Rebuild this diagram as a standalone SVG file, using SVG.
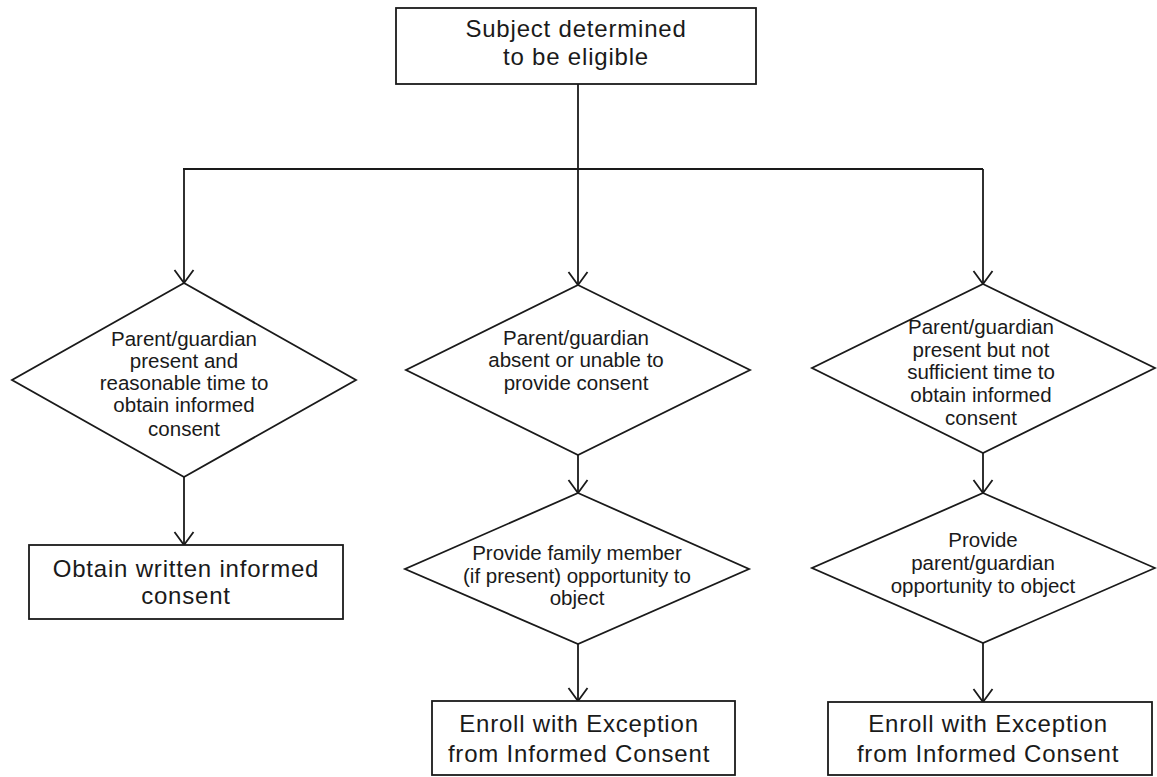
<svg xmlns="http://www.w3.org/2000/svg" width="1157" height="777" viewBox="0 0 1157 777">
  <style>
    .shape { fill: #ffffff; stroke: #1a1a1a; stroke-width: 1.8; }
    .link { fill: none; stroke: #1a1a1a; stroke-width: 1.8; }
    .boxtxt { font-family: "Liberation Sans", Arial, sans-serif; font-size: 24px; letter-spacing: 0.8px; fill: #1a1a1a; text-anchor: middle; }
    .dtxt { font-family: "Liberation Sans", Arial, sans-serif; font-size: 20.5px; fill: #1a1a1a; text-anchor: middle; }
  </style>
  <defs>
    <marker id="arrow" markerUnits="userSpaceOnUse" markerWidth="30" markerHeight="30" refX="0" refY="0" orient="auto" overflow="visible">
      <path d="M-13,-9.5 L0,0 L-13,9.5" fill="none" stroke="#1a1a1a" stroke-width="1.8"/>
    </marker>
  </defs>
  <rect width="1157" height="777" fill="#ffffff"/>

  <g id="connectors">
    <line class="link" x1="578" y1="84" x2="578" y2="169"/>
    <line class="link" x1="183" y1="169" x2="983" y2="169"/>
    <line class="link" x1="184" y1="169" x2="184" y2="283" marker-end="url(#arrow)"/>
    <line class="link" x1="578" y1="169" x2="578" y2="285" marker-end="url(#arrow)"/>
    <line class="link" x1="983" y1="169" x2="983" y2="284" marker-end="url(#arrow)"/>
    <line class="link" x1="184" y1="477" x2="184" y2="545" marker-end="url(#arrow)"/>
    <line class="link" x1="578" y1="455" x2="578" y2="493" marker-end="url(#arrow)"/>
    <line class="link" x1="578" y1="644" x2="578" y2="701" marker-end="url(#arrow)"/>
    <line class="link" x1="983" y1="453" x2="983" y2="493" marker-end="url(#arrow)"/>
    <line class="link" x1="983" y1="643" x2="983" y2="702" marker-end="url(#arrow)"/>
  </g>

  <g id="start">
    <rect class="shape" x="396" y="8" width="360" height="76"/>
    <text class="boxtxt" x="576" y="37">Subject determined</text>
    <text class="boxtxt" x="576" y="65">to be eligible</text>
  </g>

  <g id="d1">
    <polygon class="shape" points="184,283 356,380 184,477 12,380"/>
    <text class="dtxt" x="184" y="346">Parent/guardian</text>
    <text class="dtxt" x="184" y="368">present and</text>
    <text class="dtxt" x="184" y="390">reasonable time to</text>
    <text class="dtxt" x="184" y="412">obtain informed</text>
    <text class="dtxt" x="184" y="436">consent</text>
  </g>

  <g id="d2">
    <polygon class="shape" points="578,285 750,370 578,455 406,370"/>
    <text class="dtxt" x="576" y="345">Parent/guardian</text>
    <text class="dtxt" x="576" y="367">absent or unable to</text>
    <text class="dtxt" x="576" y="390">provide consent</text>
  </g>

  <g id="d3">
    <polygon class="shape" points="983,284 1155,368 983,453 812,368"/>
    <text class="dtxt" x="981" y="334">Parent/guardian</text>
    <text class="dtxt" x="981" y="357">present but not</text>
    <text class="dtxt" x="981" y="379">sufficient time to</text>
    <text class="dtxt" x="981" y="402">obtain informed</text>
    <text class="dtxt" x="981" y="425">consent</text>
  </g>

  <g id="obtain">
    <rect class="shape" x="29" y="545" width="314" height="74"/>
    <text class="boxtxt" x="186" y="577">Obtain written informed</text>
    <text class="boxtxt" x="186" y="604">consent</text>
  </g>

  <g id="d4">
    <polygon class="shape" points="578,493 749,569 578,644 405,569"/>
    <text class="dtxt" x="577" y="560">Provide family member</text>
    <text class="dtxt" x="577" y="583">(if present) opportunity to</text>
    <text class="dtxt" x="577" y="605">object</text>
  </g>

  <g id="d5">
    <polygon class="shape" points="983,493 1155,568 983,643 812,568"/>
    <text class="dtxt" x="983" y="547">Provide</text>
    <text class="dtxt" x="983" y="570">parent/guardian</text>
    <text class="dtxt" x="983" y="593">opportunity to object</text>
  </g>

  <g id="enroll1">
    <rect class="shape" x="432" y="701" width="303" height="74"/>
    <text class="boxtxt" x="579" y="732">Enroll with Exception</text>
    <text class="boxtxt" x="579" y="762">from Informed Consent</text>
  </g>

  <g id="enroll2">
    <rect class="shape" x="828" y="702" width="324" height="73"/>
    <text class="boxtxt" x="988" y="732">Enroll with Exception</text>
    <text class="boxtxt" x="988" y="762">from Informed Consent</text>
  </g>
</svg>
